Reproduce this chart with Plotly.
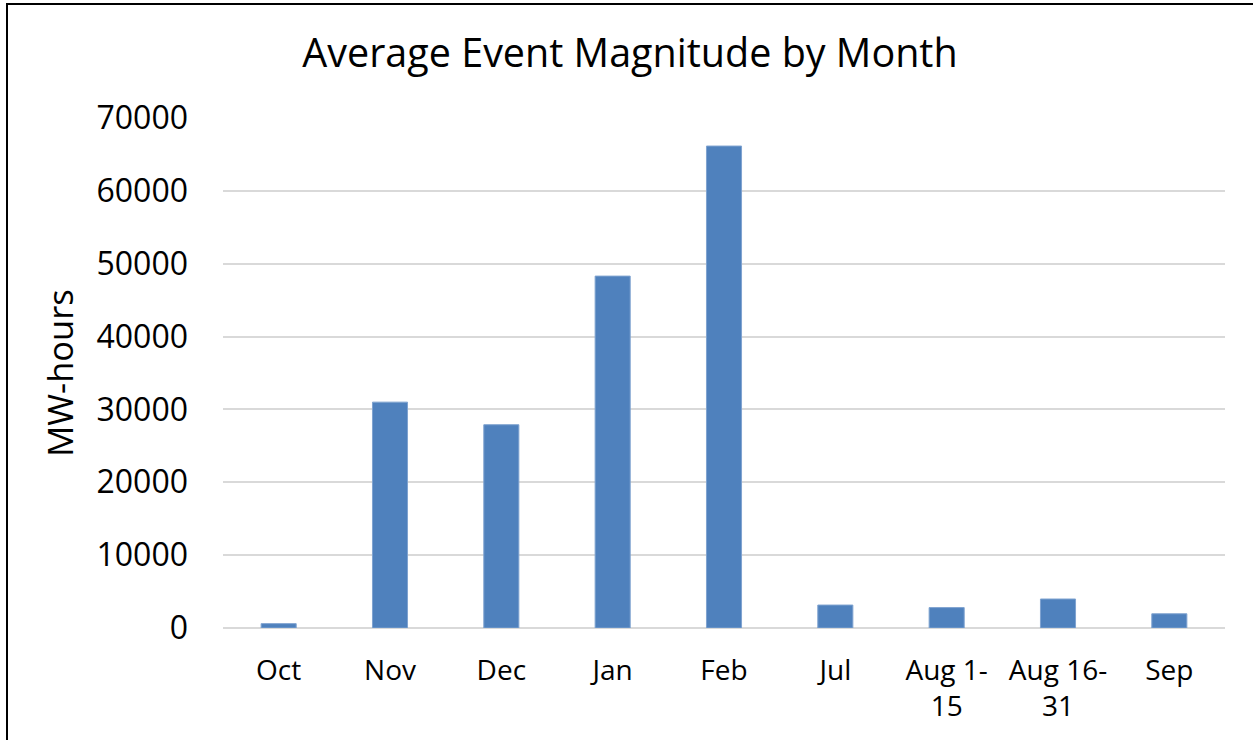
import plotly.graph_objects as go

categories = ["Oct", "Nov", "Dec", "Jan", "Feb", "Jul", "Aug 1-<br>15", "Aug 16-<br>31", "Sep"]
values = [600, 31000, 27900, 48300, 66150, 3150, 2800, 3980, 1950]
y_ticks = [0, 10000, 20000, 30000, 40000, 50000, 60000, 70000]

FONT = "Open Sans"
W, H = 1253, 740
ML, MR, MT, MB = 223, 28, 118, 112
pw, ph = W - ML - MR, H - MT - MB

fig = go.Figure(go.Bar(
    x=categories, y=values,
    marker=dict(color="#4F81BD", line=dict(color="#7FA3D0", width=1)),
))

def px_x(p):
    return (p - ML) / pw

def px_y(p):
    return (H - MB - p) / ph

fig.update_layout(
    width=W, height=H,
    margin=dict(l=ML, r=MR, t=MT, b=MB, pad=0),
    paper_bgcolor="white", plot_bgcolor="white",
    bargap=0.685,
    showlegend=False,
    font=dict(family=FONT, color="black"),
    title=dict(text="Average Event Magnitude by Month", x=630 / W, xanchor="center",
               y=1 - 53 / H, yanchor="middle", font=dict(size=39.5, family=FONT, color="black")),
    xaxis=dict(tickfont=dict(size=28), showgrid=False, showline=False, ticks="",
               ticklabelstandoff=23),
    yaxis=dict(range=[0, 70000], tickvals=y_ticks, ticktext=[str(v) for v in y_ticks],
               tickfont=dict(size=32), gridcolor="#D9D9D9", gridwidth=2,
               zeroline=True, zerolinecolor="#D9D9D9", zerolinewidth=2,
               showline=False, ticks="", ticklabelstandoff=34,
               title=dict(text="MW-hours", font=dict(size=34.5), standoff=12)),
    shapes=[
        dict(type="line", xref="paper", yref="paper", x0=px_x(7), x1=px_x(7),
             y0=px_y(3), y1=px_y(745), line=dict(color="black", width=2)),
        dict(type="line", xref="paper", yref="paper", x0=px_x(6), x1=px_x(1260),
             y0=px_y(4), y1=px_y(4), line=dict(color="black", width=2)),
    ],
)

fig.write_html("out.html", config={"displayModeBar": False},
               post_script="document.body.style.margin='0';document.body.style.padding='0';document.body.style.overflow='hidden';")
